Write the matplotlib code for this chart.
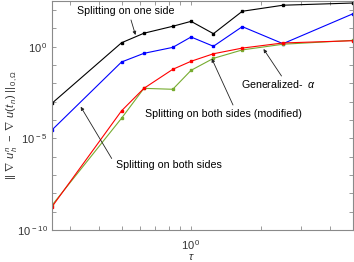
import matplotlib
matplotlib.use("Agg")
import math
import matplotlib.pyplot as plt
from matplotlib.ticker import FixedLocator, FuncFormatter, NullFormatter

plt.rcParams['font.family'] = ['Liberation Sans', 'DejaVu Sans']
plt.rcParams['mathtext.fontset'] = 'custom'
plt.rcParams['mathtext.rm'] = 'Liberation Sans'
plt.rcParams['mathtext.it'] = 'Liberation Sans:italic'

# time steps tau = T/N
tau = [0.25, 0.5, 0.625, 0.8333, 1.0, 1.25, 1.6667, 2.5, 5.0]

err_one_side = [8.3e-4, 1.66, 5.5, 13.2, 24.5, 5.2, 87, 186, 245]
err_both_sides = [2.9e-5, 0.148, 0.44, 0.93, 3.43, 1.07, 12.6, 1.48, 62]
err_gen_alpha = [1.86e-9, 3.2e-4, 5.4e-3, 0.059, 0.162, 0.417, 0.85, 1.62, 2.14]
err_both_mod = [2.24e-9, 1.26e-4, 5.4e-3, 4.8e-3, 0.052, 0.234, 0.676, 1.38, 2.24]

labels = ["Splitting on one side", "Splitting on both sides",
          "Generalized-  $\\alpha$", "Splitting on both sides (modified)"]

W, H = 354, 262
fig = plt.figure(figsize=(W / 100, H / 100), dpi=100)
ax = fig.add_axes([52 / W, 1 - 230 / H, (352.5 - 52) / W, (230 - 1) / H])

kw = dict(lw=0.8, marker='s', ms=2.0)
ax.plot(tau, err_one_side, color='k', **kw)
ax.plot(tau, err_both_sides, color='#0000ff', **kw)
ax.plot(tau, err_both_mod, color='#77ac30', **kw)
ax.plot(tau, err_gen_alpha, color='#ff0000', **kw)

ax.set_xscale('log')
ax.set_yscale('log')
ax.set_xlim(0.25, 5)
ax.set_ylim(1e-10, 10 ** 2.5)

ax.xaxis.set_major_locator(FixedLocator([1.0]))
ax.xaxis.set_minor_locator(FixedLocator([0.3, 0.4, 0.5, 0.6, 0.7, 0.8, 0.9, 2, 3, 4]))
ax.xaxis.set_minor_formatter(NullFormatter())
ax.xaxis.set_major_formatter(FuncFormatter(lambda v, p: r'$10^{\,0}$'))

ax.yaxis.set_major_locator(FixedLocator([10.0 ** k for k in range(-10, 3)]))
ax.yaxis.set_minor_locator(FixedLocator([]))


def yfmt(v, p):
    e = int(round(math.log10(v)))
    if e % 5 == 0:
        return r'$10^{\,%d}$' % e
    return ''


ax.yaxis.set_major_formatter(FuncFormatter(yfmt))

for s in ax.spines.values():
    s.set_color('#8a8a8a')
    s.set_linewidth(0.8)
ax.tick_params(which='both', direction='in', top=True, right=True,
               color='#8a8a8a', labelcolor='#333333', labelsize=8, width=0.6, length=3)
ax.tick_params(axis='y', pad=3)
ax.tick_params(axis='x', pad=6)


def fp(x, y):
    return (x / W, 1 - y / H)


fig.text(*fp(191.5, 257.5), r'$\tau$', ha='center', va='center', fontsize=8, color='#333333')
fig.text(*fp(12, 125), r'$||\ \nabla\ u^{\,n}_{\,h}\ -\ \nabla\ u(t_{\,n})\ ||_{\,0,\Omega}$',
         rotation=90, ha='center', va='center', fontsize=8, color='#333333')

tkw = dict(fontsize=7.7, color='k', va='center')
fig.text(*fp(126, 11.5), labels[0], ha='center', **tkw)
fig.text(*fp(169, 165), labels[1], ha='center', **tkw)
fig.text(*fp(241, 84), labels[2], ha='left', **tkw)
fig.text(*fp(223, 113.5), labels[3], ha='center', **tkw)

akw = dict(arrowstyle='-|>', lw=0.6, color='#222222', mutation_scale=5, shrinkA=0, shrinkB=0)
for tail, head in [((131, 20), (135.5, 35)),
                   ((111.7, 158.5), (80.7, 106.7)),
                   ((281.5, 76), (263.5, 49)),
                   ((233, 105), (211.7, 58.5))]:
    ax.annotate('', xy=fp(*head), xycoords='figure fraction',
                xytext=fp(*tail), textcoords='figure fraction', arrowprops=akw)

fig.savefig('out.png', dpi=100)
